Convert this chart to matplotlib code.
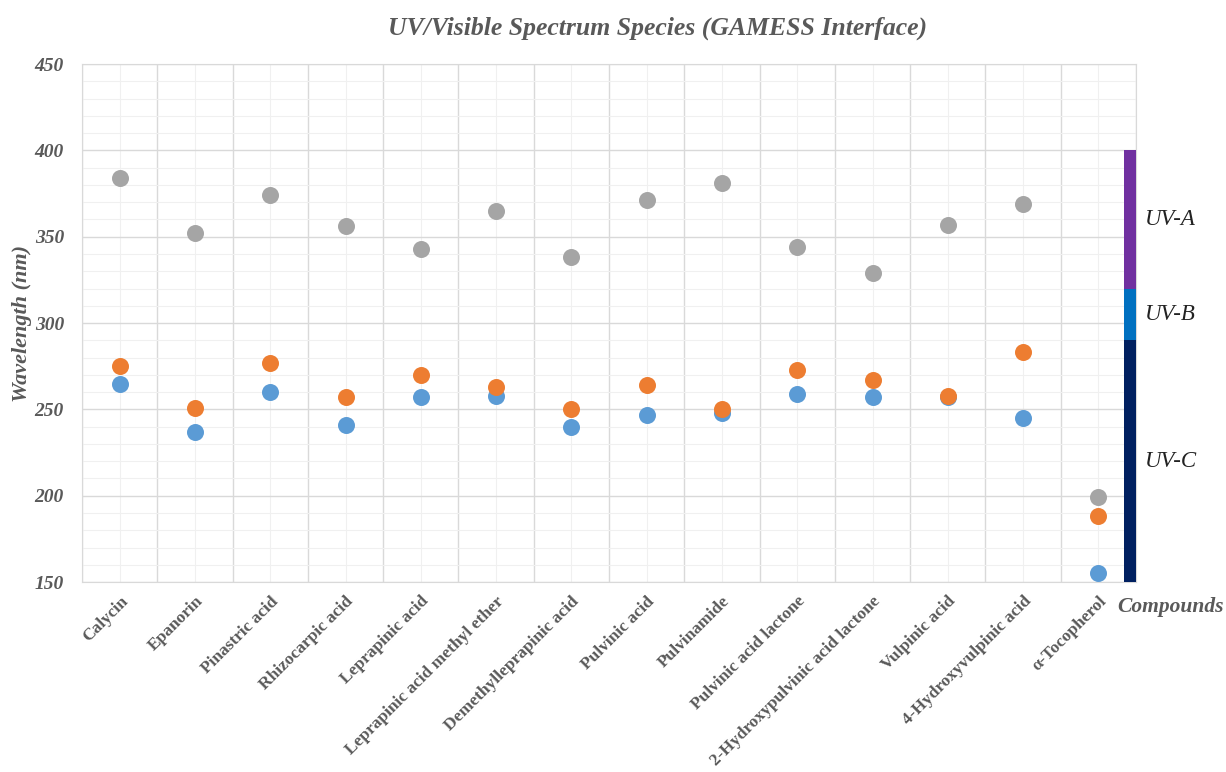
import numpy as np
import matplotlib.pyplot as plt
from matplotlib.ticker import MultipleLocator

compounds = ["Calycin", "Epanorin", "Pinastric acid", "Rhizocarpic acid", "Leprapinic acid",
             "Leprapinic acid methyl ether", "Demethylleprapinic acid", "Pulvinic acid",
             "Pulvinamide", "Pulvinic acid lactone", "2-Hydroxypulvinic acid lactone",
             "Vulpinic acid", "4-Hydroxyvulpinic acid", "α-Tocopherol"]
blue_vals = [265, 237, 260, 241, 257, 258, 240, 247, 248, 259, 257, 257, 245, 155]
orange_vals = [275, 251, 277, 257, 270, 263, 250, 264, 250, 273, 267, 258, 283, 188]
gray_vals = [384, 352, 374, 356, 343, 365, 338, 371, 381, 344, 329, 357, 369, 199]

band_names = ["UV-A", "UV-B", "UV-C"]
band_low = [320, 290, 150]
band_high = [400, 320, 290]
band_colors = ["#7030A0", "#0070C0", "#002060"]

txt = "#595959"
serif = "Liberation Serif"

fig = plt.figure(figsize=(12.26, 7.72), dpi=100)
ax = fig.add_axes([0.0669, 0.246, 0.8597, 0.671])

x = np.arange(len(compounds))
ax.scatter(x, gray_vals, s=150, color="#A5A5A5", zorder=3, linewidths=0)
ax.scatter(x, orange_vals, s=150, color="#ED7D31", zorder=4, linewidths=0)
ax.scatter(x, blue_vals, s=150, color="#5B9BD5", zorder=3, linewidths=0)

# UV band bar on the right edge
bw = 0.16
for lo, hi, c in zip(band_low, band_high, band_colors):
    ax.bar(len(compounds) - 0.5 - bw / 2, hi - lo, bottom=lo, width=bw, color=c, zorder=5)
for name, lo, hi in zip(band_names, band_low, band_high):
    ax.text(1.008, (lo + hi) / 2, name, transform=ax.get_yaxis_transform(),
            fontsize=16.5, style="italic", family=serif, color="#222222", va="center", ha="left")

ax.set_xlim(-0.5, len(compounds) - 0.5)
ax.set_ylim(150, 450)
ax.yaxis.set_major_locator(MultipleLocator(50))
ax.yaxis.set_minor_locator(MultipleLocator(10))
ax.set_xticks(x)
ax.set_xticks(np.arange(-0.5, len(compounds), 1), minor=True)
ax.set_xticklabels(compounds, rotation=45, ha="right", rotation_mode="anchor",
                   fontsize=12.5, fontweight="bold", family=serif, color=txt)
for lab in ax.get_yticklabels():
    lab.set_fontsize(14)
    lab.set_fontweight("bold")
    lab.set_fontstyle("italic")
    lab.set_family(serif)
    lab.set_color(txt)
ax.tick_params(axis="both", which="both", length=0)
ax.tick_params(axis="x", pad=8)
ax.tick_params(axis="y", pad=13)

ax.grid(True, which="major", axis="y", color="#D9D9D9", linewidth=1)
ax.grid(True, which="minor", axis="y", color="#F0F0F0", linewidth=0.8)
ax.grid(True, which="minor", axis="x", color="#D9D9D9", linewidth=1)
ax.grid(True, which="major", axis="x", color="#F0F0F0", linewidth=0.8)
ax.set_axisbelow(True)
for sp in ax.spines.values():
    sp.set_color("#D9D9D9")

ax.set_ylabel("Wavelength (nm)", fontsize=16, fontweight="bold", style="italic",
              family=serif, color=txt)
ax.yaxis.set_label_coords(-0.047, 0.5)

fig.text(0.536, 0.963, "UV/Visible Spectrum Species (GAMESS Interface)", ha="center", va="center",
         fontsize=18.5, fontweight="bold", style="italic", family=serif, color=txt)
fig.text(0.911, 0.214, "Compounds", ha="left", va="center",
         fontsize=15.5, fontweight="bold", style="italic", family=serif, color=txt)

fig.savefig("out.png", dpi=100)
